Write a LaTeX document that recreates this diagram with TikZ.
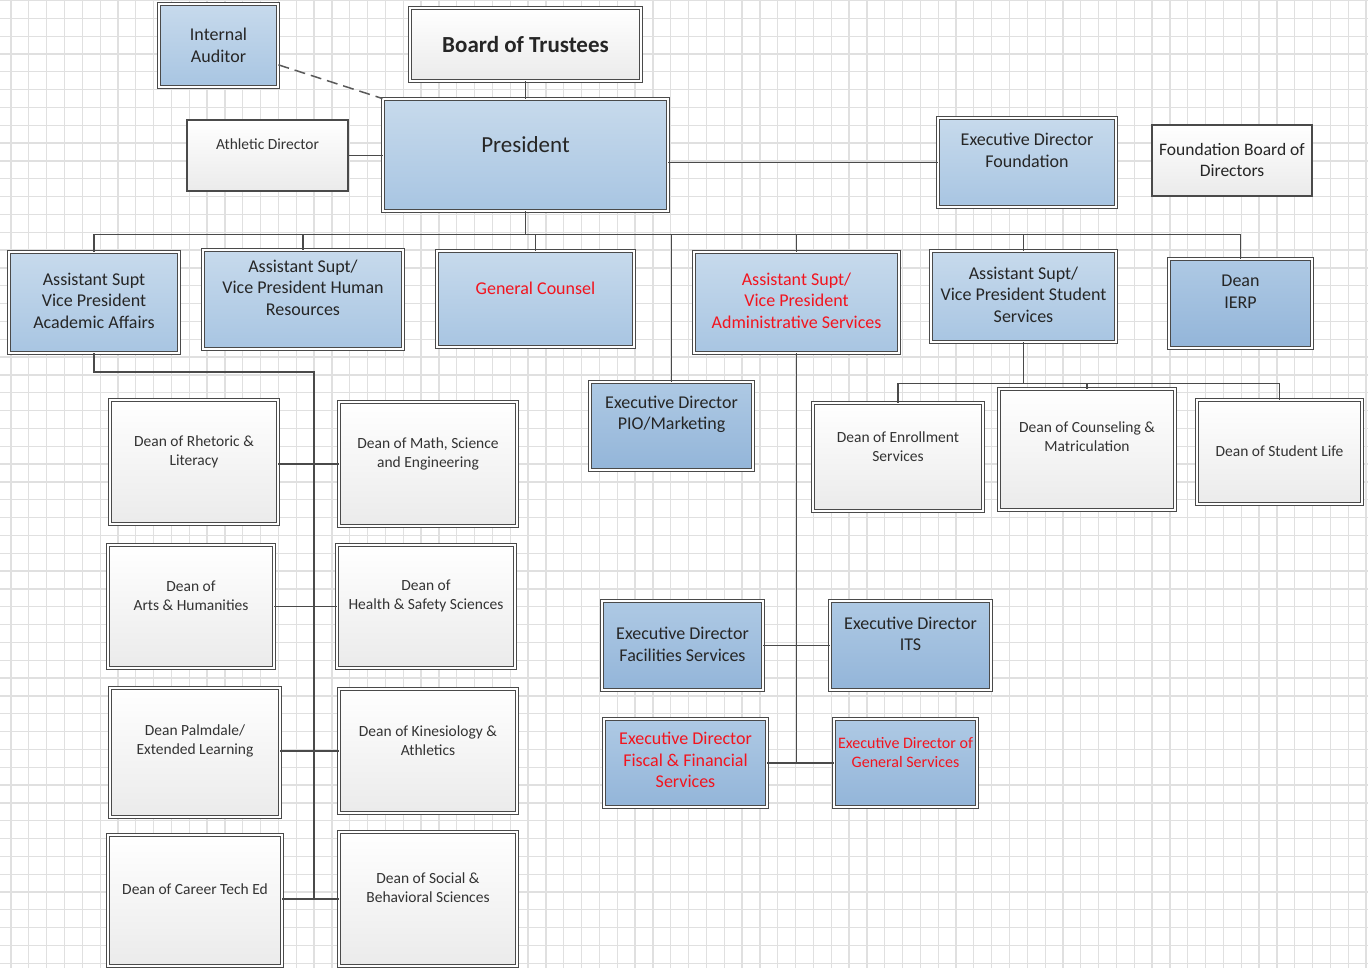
\documentclass[tikz,border=0pt]{standalone}
\usepackage{fontspec}
\setmainfont{Carlito}
\usetikzlibrary{shadows}

\definecolor{paleblue}{HTML}{C7DAEC}
\definecolor{midblue}{HTML}{A8C5E2}
\definecolor{deepblue}{HTML}{93B5D9}
\definecolor{gridgray}{HTML}{E0E0E0}
\definecolor{inkgray}{HTML}{4A4A4A}
\definecolor{orgred}{HTML}{F2141E}

\tikzset{
  wh/.style 2 args={minimum width=#1, minimum height=#2, inner sep=0pt},
  dbl/.style={draw=inkgray, line width=0.9pt, double=white, double distance=1.4pt,
    drop shadow={opacity=.25, shadow xshift=1.2pt, shadow yshift=-1.2pt}},
  bluebox/.style={dbl, top color=paleblue, bottom color=midblue},
  darkbox/.style={dbl, top color=midblue!80!paleblue, bottom color=deepblue},
  deanbox/.style={dbl, top color=white, bottom color=black!8},
  plainbox/.style={draw=inkgray, line width=1.2pt, top color=white, bottom color=black!8},
  txt/.style={yshift=#1, align=center, text=black!85, font=\fontsize{18}{21.5}\selectfont},
  txt/.default=11,
  small/.style={font=\fontsize{15.5}{19}\selectfont, text=black!80},
  alert/.style={text=orgred},
  link/.style={draw=inkgray, line width=1.3pt},
  gridline/.style={draw=gridgray, line width=1.3pt}
}

\begin{document}
\begin{tikzpicture}[x=1pt, y=-1pt]
\useasboundingbox (0,0) rectangle (1368,968);

% background grid
\foreach \gx in {0,...,76} \draw[gridline] (11+17.83*\gx,0) -- (11+17.83*\gx,968);
\foreach \gy in {0,...,54} \draw[gridline] (0,0.5+17.83*\gy) -- (1368,0.5+17.83*\gy);

% top of the chart
\node[bluebox, wh={119}{83}, label={[txt=0]center:Internal\\Auditor}] (audit) at (218.5,45.5) {};
\node[deanbox, wh={231}{73}, label={[txt=0, font=\fontsize{23}{27}\selectfont\bfseries]center:Board of Trustees}] (bot) at (525.5,44.5) {};
\node[bluebox, wh={285}{112}, label={[txt=10, font=\fontsize{23}{27}\selectfont]center:President}] (pres) at (525.5,155) {};
\node[plainbox, wh={161}{71}, label={[txt=11, small]center:Athletic Director}] (athl) at (267.5,155.5) {};
\node[bluebox, wh={178}{89}, label={[txt=12]center:Executive Director\\Foundation}] (fndn) at (1027,162.5) {};
\node[plainbox, wh={160}{71}, label={[txt=1, font=\fontsize{17.5}{21}\selectfont]center:Foundation Board of\\Directors}] (fbod) at (1232,160.5) {};

% vice presidents and direct reports
\node[bluebox, wh={170}{101}, label={[txt=2]center:Assistant Supt\\Vice President\\Academic Affairs}] (acad) at (94,302.5) {};
\node[bluebox, wh={200}{99}, label={[txt=12]center:Assistant Supt/\\Vice President Human\\Resources}] (hr) at (303,299.5) {};
\node[bluebox, wh={197}{96}, label={[txt=11, alert]center:General Counsel}] (gc) at (535.5,299) {};
\node[bluebox, wh={205}{101}, label={[txt=2, alert]center:Assistant Supt/\\Vice President\\Administrative Services}] (admin) at (796.5,302.5) {};
\node[bluebox, wh={185}{91}, label={[txt=2]center:Assistant Supt/\\Vice President Student\\Services}] (stud) at (1023.5,296.5) {};
\node[darkbox, wh={143}{89}, label={[txt=12]center:Dean\\IERP}] (ierp) at (1240.5,303.5) {};
\node[darkbox, wh={163}{88}, label={[txt=11.5]center:Executive Director\\PIO/Marketing}] (pio) at (671.5,426) {};

% student services deans
\node[deanbox, wh={170}{108}, label={[txt=10, small]center:Dean of Enrollment\\Services}] (enrl) at (898,457) {};
\node[deanbox, wh={176}{121}, label={[txt=12.5, small]center:Dean of Counseling \&\\Matriculation}] (couns) at (1087,449.5) {};
\node[deanbox, wh={165}{104}, label={[txt=1, small]center:Dean of Student Life}] (slife) at (1279.5,452) {};

% academic deans
\node[deanbox, wh={168}{124}, label={[txt=10, small]center:Dean of Rhetoric \&\\Literacy}] (rhet) at (194,462) {};
\node[deanbox, wh={178}{124}, label={[txt=10.5, small]center:Dean of Math, Science\\and Engineering}] (math) at (428,464) {};
\node[deanbox, wh={166}{123}, label={[txt=10.5, small]center:Dean of\\Arts \& Humanities}] (arts) at (191,606.5) {};
\node[deanbox, wh={178}{123}, label={[txt=10.5, small]center:Dean of\\Health \& Safety Sciences}] (hlth) at (426,606.5) {};
\node[deanbox, wh={170}{129}, label={[txt=12, small]center:Dean Palmdale/\\Extended Learning}] (palm) at (195,752.5) {};
\node[deanbox, wh={178}{124}, label={[txt=10.5, small]center:Dean of Kinesiology \&\\Athletics}] (kin) at (428,751) {};
\node[deanbox, wh={174}{131}, label={[txt=11, small]center:Dean of Career Tech Ed}] (ctech) at (195,900.5) {};
\node[deanbox, wh={178}{134}, label={[txt=11, small]center:Dean of Social \&\\Behavioral Sciences}] (soc) at (428,899) {};

% administrative services directors
\node[darkbox, wh={161}{89}, label={[txt=1]center:Executive Director\\Facilities Services}] (fac) at (682.5,645.5) {};
\node[darkbox, wh={161}{89}, label={[txt=11.5]center:Executive Director\\ITS}] (its) at (910.5,645.5) {};
\node[darkbox, wh={163}{88}, label={[txt=3, alert]center:Executive Director\\Fiscal \& Financial\\Services}] (fisc) at (685.5,763) {};
\node[darkbox, wh={143}{88}, label={[txt=10.5, alert, font=\fontsize{16}{19.5}\selectfont]center:Executive Director of\\General Services}] (gen) at (905.5,763) {};

% links from the president
\draw[link] (bot) -- (pres);
\draw[link, draw=black!65, line width=1.5pt, dash pattern=on 11pt off 6pt] (audit) -- (pres.north west);
\draw[link] (athl.east) -- (athl.east -| pres.west);
\draw[link] (fndn.west) -- (fndn.west -| pres.east);
\coordinate (bus) at ([yshift=-23pt]pres.south);
\draw[link] (pres.south) -- (bus);
\draw[link] (acad.north |- bus) -- (ierp.north |- bus);
\foreach \n in {acad,hr,gc,pio,admin,stud,ierp}
  \draw[link] (\n.north) -- (\n.north |- bus);

% academic affairs
\coordinate (aspine) at (314,372);
\draw[link] (acad.south) |- (aspine) -- (aspine |- soc.west);
\draw[link] (math.west) -- (math.west -| rhet.east);
\draw[link] (hlth.west) -- (hlth.west -| arts.east);
\draw[link] (kin.west) -- (kin.west -| palm.east);
\draw[link] (soc.west) -- (soc.west -| ctech.east);

% administrative services
\draw[link] (admin.south) -- (admin.south |- gen.west);
\draw[link] (fac.east) -- (its.west);
\draw[link] (fisc.east) -- (gen.west);

% student services
\coordinate (sbus) at ([yshift=-41pt]stud.south);
\draw[link] (stud.south) -- (sbus);
\draw[link] (enrl.north |- sbus) -- (slife.north |- sbus);
\foreach \n in {enrl,couns,slife}
  \draw[link] (\n.north) -- (\n.north |- sbus);

\end{tikzpicture}
\end{document}
